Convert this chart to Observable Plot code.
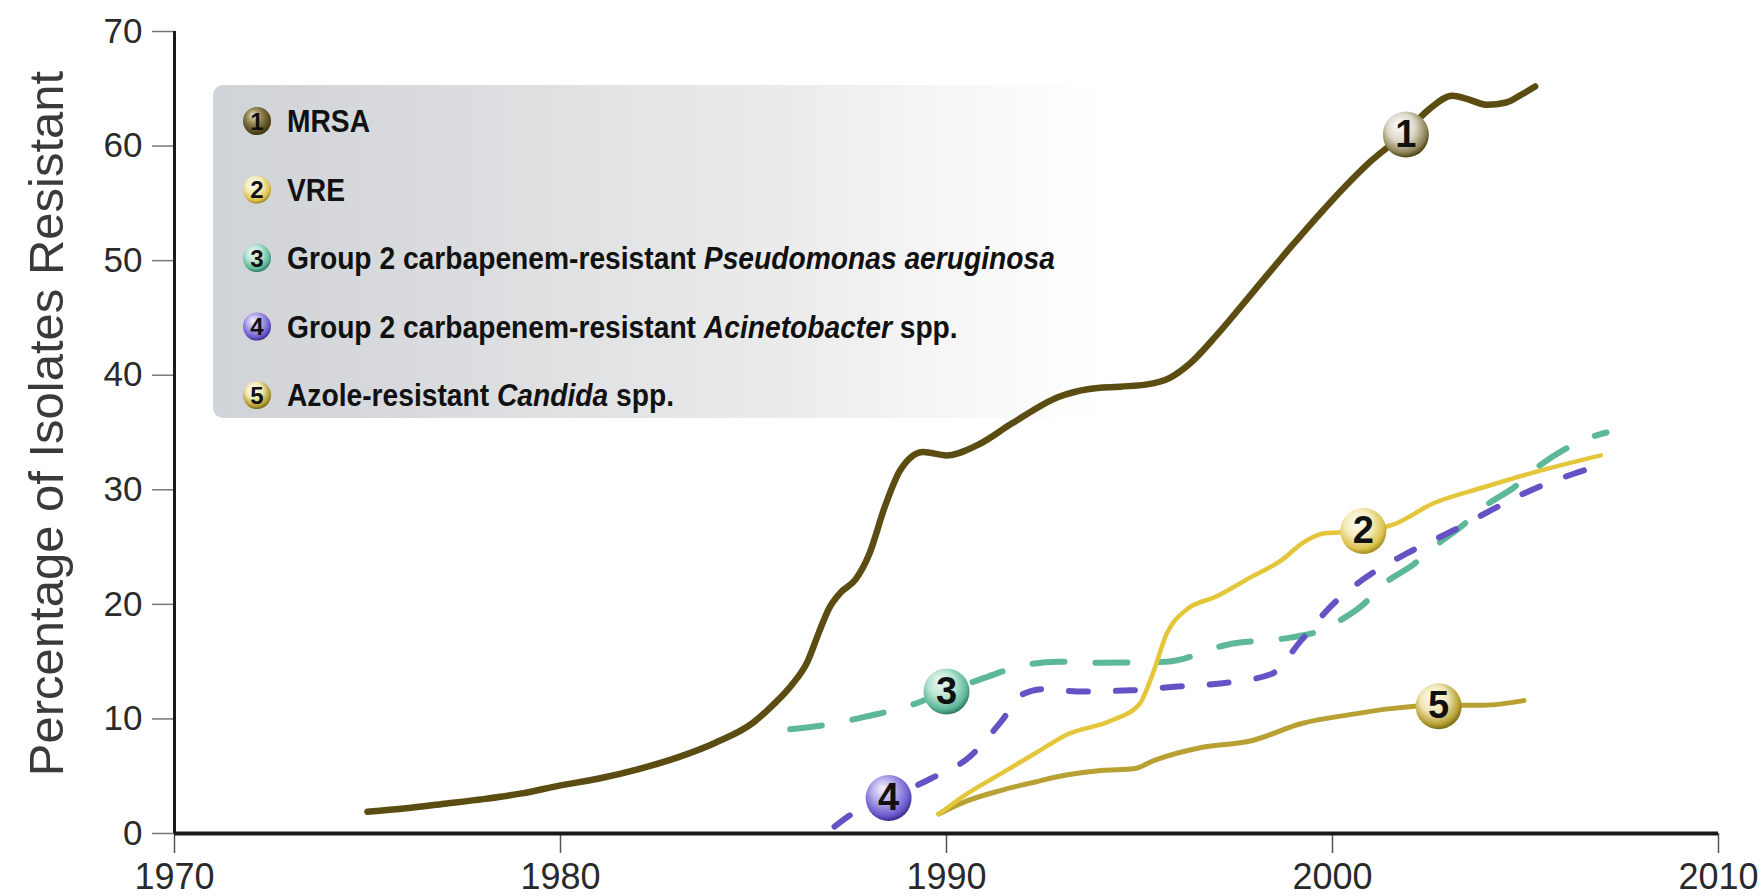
<!DOCTYPE html>
<html><head><meta charset="utf-8">
<script src="https://cdn.jsdelivr.net/npm/d3@7"></script>
<script src="https://cdn.jsdelivr.net/npm/@observablehq/plot@0.6"></script>
<style>
html,body{margin:0;padding:0;background:#fff;}
#chart{width:1763px;height:896px;overflow:hidden;}
</style></head><body>
<svg width="0" height="0" style="position:absolute">
<defs>
  <linearGradient id="legendGrad" x1="0" y1="0" x2="1" y2="0">
    <stop offset="0" stop-color="#d0d3d7"/>
    <stop offset="0.35" stop-color="#dddfe1"/>
    <stop offset="0.65" stop-color="#ececec"/>
    <stop offset="0.88" stop-color="#fafafa"/>
    <stop offset="1" stop-color="#ffffff"/>
  </linearGradient>
  <radialGradient id="lab1" cx="45%" cy="40%" r="60%" fx="35%" fy="28%">
    <stop offset="0" stop-color="#ffffff"/><stop offset="0.5" stop-color="#dcd9cb"/><stop offset="0.85" stop-color="#8e8458"/><stop offset="1" stop-color="#4a4010"/>
  </radialGradient>
  <radialGradient id="lab2" cx="45%" cy="40%" r="60%" fx="35%" fy="28%">
    <stop offset="0" stop-color="#fffef5"/><stop offset="0.5" stop-color="#f4ebbc"/><stop offset="0.85" stop-color="#dcc24c"/><stop offset="1" stop-color="#a48a20"/>
  </radialGradient>
  <radialGradient id="lab3" cx="45%" cy="40%" r="60%" fx="35%" fy="28%">
    <stop offset="0" stop-color="#f2fbf7"/><stop offset="0.5" stop-color="#b6e3d2"/><stop offset="0.85" stop-color="#5db898"/><stop offset="1" stop-color="#2f7a60"/>
  </radialGradient>
  <radialGradient id="lab4" cx="45%" cy="40%" r="60%" fx="35%" fy="28%">
    <stop offset="0" stop-color="#f2f0ff"/><stop offset="0.45" stop-color="#b2aaea"/><stop offset="0.85" stop-color="#6a5acd"/><stop offset="1" stop-color="#3a2d8a"/>
  </radialGradient>
  <radialGradient id="lab5" cx="45%" cy="40%" r="60%" fx="35%" fy="28%">
    <stop offset="0" stop-color="#fffef2"/><stop offset="0.5" stop-color="#efe6b8"/><stop offset="0.85" stop-color="#b8a033"/><stop offset="1" stop-color="#7a6a18"/>
  </radialGradient>
  <radialGradient id="leg1" cx="45%" cy="40%" r="60%" fx="35%" fy="28%">
    <stop offset="0" stop-color="#e4e0cc"/><stop offset="0.45" stop-color="#928652"/><stop offset="1" stop-color="#3e3408"/>
  </radialGradient>
</defs></svg>
<div id="chart"></div>
<script>
// ---- data ----
const seriesNames = ["MRSA", "VRE", "Group 2 carbapenem-resistant Pseudomonas aeruginosa", "Group 2 carbapenem-resistant Acinetobacter spp.", "Azole-resistant Candida spp."];

const mrsaYears  = [1975, 1976, 1977, 1978, 1979, 1980, 1981, 1982, 1983, 1984, 1985, 1985.5, 1986.0, 1986.4, 1986.7, 1986.95, 1987.25, 1987.65, 1988.0, 1988.4, 1988.8, 1989.4, 1990.0, 1990.8, 1991.7, 1992.9, 1993.7, 1994.5, 1995.2, 1995.8, 1996.3, 1997.0, 1998.0, 1999.0, 2000.0, 2001.0, 2001.9, 2002.5, 2003.1, 2003.5, 2004.0, 2004.5, 2004.9, 2005.25];
const mrsaValues = [1.9, 2.2, 2.6, 3.0, 3.5, 4.2, 4.8, 5.6, 6.6, 7.9, 9.7, 11.2, 13.0, 15.0, 17.6, 19.6, 21.0, 22.2, 24.4, 28.5, 31.7, 33.3, 33.0, 33.9, 35.8, 38.1, 38.8, 39.0, 39.2, 39.8, 41.0, 43.5, 47.5, 51.5, 55.3, 58.7, 61.2, 63.2, 64.4, 64.1, 63.6, 63.8, 64.5, 65.2];

const vreYears  = [1989.8, 1990.5, 1991.4, 1992.3, 1993.1, 1994.3, 1995.0, 1995.35, 1995.7, 1996.2, 1997.0, 1997.9, 1998.7, 1999.2, 1999.8, 2000.8, 2001.6, 2002.6, 2003.9, 2005.2, 2006.95];
const vreValues = [1.7, 3.4, 5.2, 7.0, 8.6, 9.9, 11.3, 14.0, 17.4, 19.5, 20.7, 22.4, 23.9, 25.3, 26.2, 26.4, 27.0, 28.8, 30.2, 31.5, 33.0];

const pseudoYears  = [1985.95, 1987.1, 1987.9, 1988.9, 1990.0, 1991.0, 1991.9, 1992.9, 1994.0, 1995.7, 1997.3, 1998.9, 1999.6, 2000.2, 2000.8, 2001.3, 2002.1, 2002.7, 2003.3, 2004.0, 2004.7, 2005.4, 2006.0, 2006.7, 2007.1];
const pseudoValues = [9.1, 9.6, 10.2, 11.0, 12.4, 13.6, 14.6, 15.0, 14.9, 15.0, 16.5, 17.1, 17.6, 18.6, 20.0, 21.7, 23.5, 25.2, 26.7, 28.7, 30.2, 32.2, 33.5, 34.6, 35.0];

const acinetoYears  = [1987.1, 1987.5, 1988.5, 1989.6, 1990.6, 1991.4, 1992.0, 1992.5, 1993.4, 1994.8, 1995.9, 1997.1, 1998.4, 1999.2, 1999.95, 2000.8, 2001.9, 2003.1, 2004.1, 2005.1, 2006.25, 2006.8];
const acinetoValues = [0.6, 1.6, 3.1, 4.8, 6.7, 9.7, 12.2, 12.6, 12.4, 12.5, 12.8, 13.1, 13.9, 16.9, 19.8, 22.2, 24.4, 26.4, 28.2, 29.9, 31.4, 32.0];

const candidaYears  = [1989.8, 1990.5, 1991.4, 1992.3, 1993.1, 1994.0, 1994.85, 1995.4, 1996.6, 1997.9, 1999.2, 2000.5, 2001.5, 2002.75, 2003.9, 2004.96];
const candidaValues = [1.7, 2.8, 3.75, 4.5, 5.1, 5.5, 5.65, 6.4, 7.5, 8.1, 9.6, 10.4, 10.9, 11.2, 11.2, 11.6];

const labelNumbers = ["1", "2", "3", "4", "5"];
const labelYears   = [2001.9, 2000.8, 1990.0, 1988.5, 2002.75];
const labelValues  = [61.0, 26.4, 12.4, 3.1, 11.1];

const xTicks = [1970, 1980, 1990, 2000, 2010];
const yTicks = [0, 10, 20, 30, 40, 50, 60, 70];
const yTitle = "Percentage of Isolates Resistant";

// legend rows: [text, italic]
const legendRows = [
  [["MRSA", false]],
  [["VRE", false]],
  [["Group 2 carbapenem-resistant ", false], ["Pseudomonas aeruginosa", true]],
  [["Group 2 carbapenem-resistant ", false], ["Acinetobacter", true], [" spp.", false]],
  [["Azole-resistant ", false], ["Candida", true], [" spp.", false]]
];

// ---- styles ----
const styles = {
  MRSA: {stroke: "#5b4d12", width: 6.5, dash: null},
  VRE: {stroke: "#e4c63a", width: 4.5, dash: null},
  Pseudo: {stroke: "#5db898", width: 6, dash: "32,31"},
  Acineto: {stroke: "#6553c6", width: 6, dash: "19,28"},
  Candida: {stroke: "#b8a033", width: 5, dash: null}
};

const toRows = (xs, ys) => xs.map((x, i) => ({x, y: ys[i]}));
const drawOrder = [
  [toRows(pseudoYears, pseudoValues), styles.Pseudo],
  [toRows(acinetoYears, acinetoValues), styles.Acineto],
  [toRows(candidaYears, candidaValues), styles.Candida],
  [toRows(vreYears, vreValues), styles.VRE],
  [toRows(mrsaYears, mrsaValues), styles.MRSA]
];

const FONT = "'Liberation Sans', Arial, sans-serif";

const marks = [
  Plot.axisY({ticks: yTicks, tickSize: 22, tickPadding: 10, fontSize: 35, stroke: "#777", strokeWidth: 1.5, fill: "#2a2a2a", label: null}),
  Plot.axisX({ticks: xTicks, tickFormat: d => String(d), tickSize: 20, tickPadding: 10, fontSize: 36, stroke: "#555", strokeWidth: 1.5, fill: "#2a2a2a", label: null}),
  Plot.ruleY([0], {x1: 1970, x2: 2010, stroke: "#1a1a1a", strokeWidth: 4}),
  Plot.ruleX([1970], {y1: 0, y2: 70, stroke: "#1a1a1a", strokeWidth: 3}),
  Plot.text([yTitle], {text: d => d, frameAnchor: "left", textAnchor: "middle", rotate: -90, dx: -127, dy: -9, fontSize: 49, fill: "#3a3a3a", fontFamily: FONT, lineAnchor: "middle"})
];
for (const [rows, st] of drawOrder) {
  marks.push(Plot.line(rows, {x: "x", y: "y", stroke: st.stroke, strokeWidth: st.width, strokeDasharray: st.dash ?? undefined, strokeLinecap: "round", strokeLinejoin: "round", curve: "monotone-x"}));
}
labelNumbers.forEach((n, i) => {
  marks.push(Plot.dot([i], {x: j => labelYears[j], y: j => labelValues[j], r: 23, fill: `url(#lab${i + 1})`, stroke: "none"}));
});
marks.push(Plot.text(labelNumbers.map((_, i) => i), {x: j => labelYears[j], y: j => labelValues[j], text: j => labelNumbers[j], fontSize: 38, fontWeight: "bold", fill: "#111", fontFamily: FONT}));

const chart = Plot.plot({
  width: 1763,
  height: 896,
  marginLeft: 174,
  marginRight: 45,
  marginTop: 31,
  marginBottom: 63,
  x: {domain: [1970, 2010]},
  y: {domain: [0, 70]},
  style: {fontFamily: FONT, background: "white", overflow: "visible", color: "#2a2a2a"},
  marks
});
document.getElementById("chart").appendChild(chart);

// ---- legend (inside the plot frame) ----
const svg = d3.select(chart);
const lg = svg.insert("g", "g").attr("text-anchor", "start");
lg.append("rect").attr("x", 213).attr("y", 85).attr("width", 900).attr("height", 333).attr("rx", 10).attr("fill", "url(#legendGrad)");
const legFills = ["url(#leg1)", "url(#lab2)", "url(#lab3)", "url(#lab4)", "url(#lab5)"];
legendRows.forEach((parts, i) => {
  const cy = 121 + i * 68.5;
  lg.append("circle").attr("cx", 257).attr("cy", cy).attr("r", 14).attr("fill", legFills[i]);
  lg.append("text").attr("x", 257).attr("y", cy).attr("dy", "0.36em").attr("text-anchor", "middle")
    .attr("font-size", 24).attr("font-weight", "bold").attr("font-family", FONT).attr("fill", "#111").text(labelNumbers[i]);
  const t = lg.append("g").attr("transform", `translate(287,${cy}) scale(0.91,1)`)
    .append("text").attr("x", 0).attr("y", 0).attr("dy", "0.36em").attr("text-anchor", "start")
    .attr("font-size", 31).attr("font-weight", "bold").attr("font-family", FONT).attr("fill", "#111");
  parts.forEach(([txt, it]) => t.append("tspan").attr("font-style", it ? "italic" : "normal").text(txt));
});
</script>
</body></html>
